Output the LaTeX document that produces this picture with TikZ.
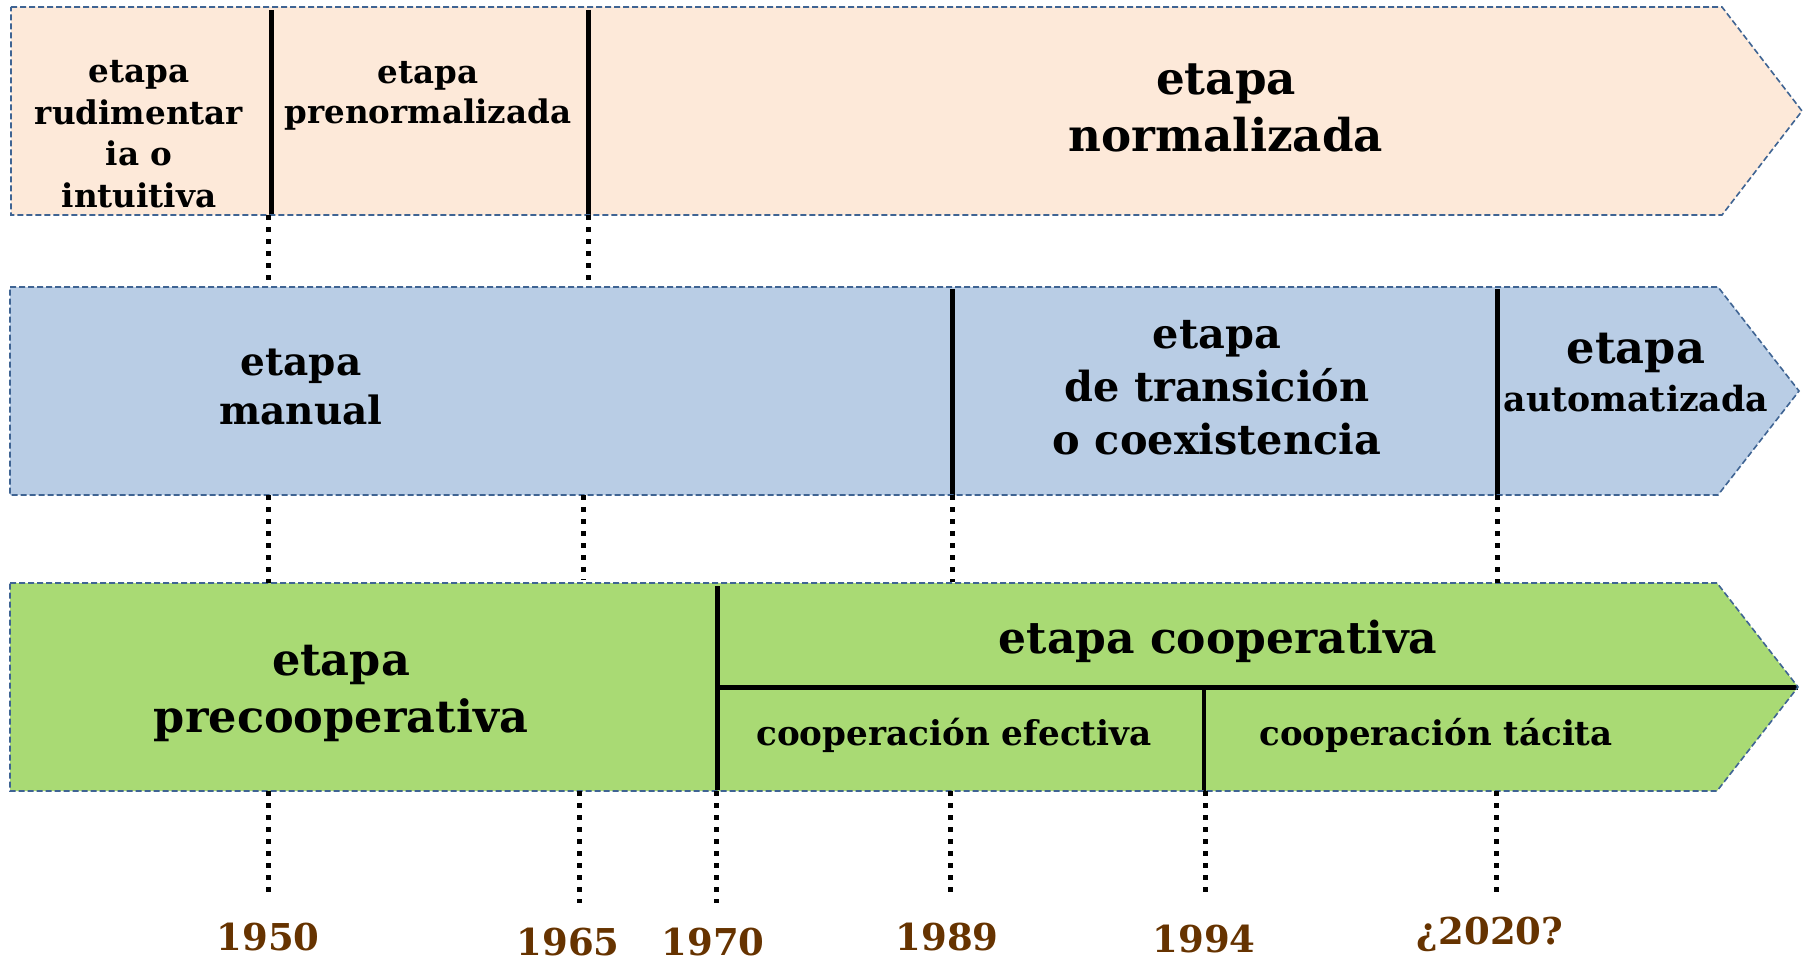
\documentclass[tikz,border=0pt]{standalone}
\usepackage{fontspec}
\setmainfont{DejaVu Serif}
\definecolor{peach}{HTML}{FDE9D9}
\definecolor{bluefill}{HTML}{B9CDE5}
\definecolor{greenfill}{HTML}{A9DA74}
\definecolor{bordercol}{HTML}{3F6493}
\definecolor{yearcol}{HTML}{663300}
\begin{document}
\begin{tikzpicture}[x=1pt,y=-1pt,
  band/.style={draw=bordercol, line width=1.6pt, dash pattern=on 6pt off 3pt},
  divider/.style={line width=5pt, black},
  tick/.style={line width=5pt, dash pattern=on 5pt off 7pt, black},
  lbl/.style={font=\bfseries, align=center, inner sep=0pt},
  year/.style={font=\bfseries\fontsize{37}{44}\selectfont, text=yearcol, inner sep=0pt}]
\useasboundingbox (0,0) rectangle (1813,963);

% ---- bands ----
\fill[peach] (11,7) -- (1722,7) -- (1802,111) -- (1722,215) -- (11,215) -- cycle;
\fill[bluefill] (10,287) -- (1718,287) -- (1799,391) -- (1718,495) -- (10,495) -- cycle;
\fill[greenfill] (10,583) -- (1717,583) -- (1798,687) -- (1717,791) -- (10,791) -- cycle;

% ---- coordinates ----
\coordinate (pA) at (271,10);   \coordinate (pAb) at (271,215);
\coordinate (pB) at (588,10);   \coordinate (pBb) at (588,215);
\coordinate (bA) at (952,289);  \coordinate (bAb) at (952,495);
\coordinate (bB) at (1497,289); \coordinate (bBb) at (1497,495);
\coordinate (gA) at (717,586);  \coordinate (gAb) at (717,790);
\coordinate (gH) at (717,687);  \coordinate (gHe) at (1798,687);
\coordinate (gC) at (1204,687); \coordinate (gCb) at (1204,791);

% ---- dividers ----
\draw[divider] (pA) -- (pAb);
\draw[divider] (pB) -- (pBb);
\draw[divider] (bA) -- (bAb);
\draw[divider] (bB) -- (bBb);
\draw[divider] (gA) -- (gAb);
\draw[divider] (gH) -- (gHe);
\draw[divider, line width=4pt] (gC) -- (gCb);

% ---- borders ----
\draw[band] (11,7) -- (1722,7) -- (1802,111) -- (1722,215) -- (11,215) -- cycle;
\draw[band] (10,287) -- (1718,287) -- (1799,391) -- (1718,495) -- (10,495) -- cycle;
\draw[band] (10,583) -- (1717,583) -- (1798,687) -- (1717,791) -- (10,791) -- cycle;

% ---- tick coordinates ----
\coordinate (t1a) at (268,215); \coordinate (t1b) at (268,285);
\coordinate (t2a) at (588,215); \coordinate (t2b) at (588,282);
\coordinate (t3a) at (268,495); \coordinate (t3b) at (268,583);
\coordinate (t4a) at (583,495); \coordinate (t4b) at (583,580);
\coordinate (t5a) at (952,495); \coordinate (t5b) at (952,582);
\coordinate (t6a) at (1497,495); \coordinate (t6b) at (1497,583);
\coordinate (y1a) at (268,791); \coordinate (y1b) at (268,898);
\coordinate (y2a) at (579,791); \coordinate (y2b) at (579,903);
\coordinate (y3a) at (716,791); \coordinate (y3b) at (716,903);
\coordinate (y4a) at (950,791); \coordinate (y4b) at (950,897);
\coordinate (y5a) at (1205,791); \coordinate (y5b) at (1205,897);
\coordinate (y6a) at (1496,791); \coordinate (y6b) at (1496,897);

\foreach \a/\b in {t1a/t1b,t2a/t2b,t3a/t3b,t4a/t4b,t5a/t5b,t6a/t6b,y1a/y1b,y2a/y2b,y3a/y3b,y4a/y4b,y5a/y5b,y6a/y6b}
  \draw[tick] (\a) -- (\b);

% ---- labels ----
\node[lbl, font=\bfseries\fontsize{32.6}{41.5}\selectfont] (rud) at (139,134) {etapa\\rudimentar\\ia o\\intuitiva};
\node[lbl, font=\bfseries\fontsize{32.5}{40.5}\selectfont] (pren) at (428,96) {etapa\\prenormalizada};
\node[lbl, font=\bfseries\fontsize{45.2}{57}\selectfont] (norm) at (1226,108) {etapa\\normalizada};
\node[lbl, font=\bfseries\fontsize{39}{49}\selectfont] (man) at (301,387) {etapa\\manual};
\node[lbl, font=\bfseries\fontsize{41.4}{53}\selectfont] (trans) at (1217,388) {etapa\\de transición\\o coexistencia};
\node[lbl, font=\bfseries\fontsize{34.7}{48}\selectfont] (auto) at (1636,373) {{\fontsize{44.7}{48}\selectfont etapa}\\automatizada};
\node[lbl, font=\bfseries\fontsize{44.6}{57}\selectfont] (prec) at (341,693) {etapa\\precooperativa};
\node[lbl, font=\bfseries\fontsize{44}{52}\selectfont] (coop) at (1218,641) {etapa cooperativa};
\node[lbl, font=\bfseries\fontsize{34.2}{40}\selectfont] (efec) at (954,735) {cooperación efectiva};
\node[lbl, font=\bfseries\fontsize{34}{40}\selectfont] (taci) at (1436,735) {cooperación tácita};

% ---- years ----
\node[year] (yr1950) at (268,937) {1950};
\node[year] (yr1965) at (568,942) {1965};
\node[year] (yr1970) at (713,942) {1970};
\node[year] (yr1989) at (947,937) {1989};
\node[year] (yr1994) at (1204,939) {1994};
\node[year] (yr2020) at (1490,934) {¿2020?};
\end{tikzpicture}
\end{document}
